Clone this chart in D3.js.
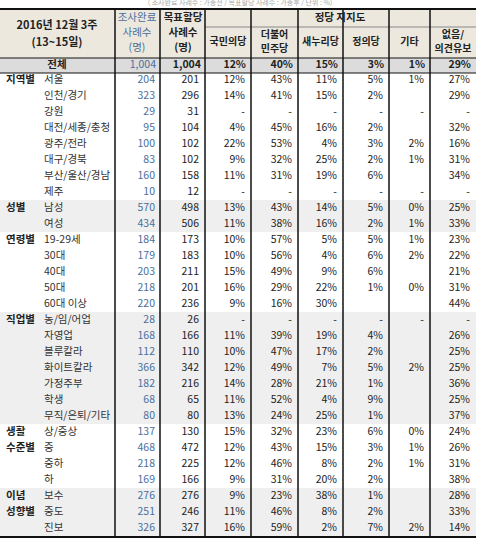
<!DOCTYPE html><html><head><meta charset="utf-8"><script src="https://cdn.jsdelivr.net/npm/d3@7"></script>
<style>body{margin:0;background:#fff}</style></head><body><svg id="c" width="487" height="540"></svg>
<script>
const groups=[["지역별",8],["성별",2],["연령별",5],["직업별",7],["생활\n수준별",4],["이념\n성향별",3]];
const labels=["서울","인천/경기","강원","대전/세종/충청","광주/전라","대구/경북","부산/울산/경남","제주","남성","여성","19-29세","30대","40대","50대","60대 이상","농/임/어업","자영업","블루칼라","화이트칼라","가정주부","학생","무직/은퇴/기타","상/중상","중","중하","하","보수","중도","진보"];
const done=[204,323,29,95,100,83,160,10,570,434,184,179,203,218,220,28,168,112,366,182,68,80,137,468,218,169,276,251,326];
const target=[201,296,31,104,102,102,158,12,498,506,173,183,211,201,236,26,166,110,342,216,65,80,130,472,225,166,276,246,327];
const parties=["국민의당","더불어\n민주당","새누리당","정의당","기타","없음/\n의견유보"];
const total=[12,40,15,3,1,29];
const D=null,X="-";
const vals=[
[12,43,11,5,1,27],[14,41,15,2,D,29],[X,X,X,X,X,X],[4,45,16,2,D,32],[22,53,4,3,2,16],[9,32,25,2,1,31],[11,31,19,6,D,34],[X,X,X,X,X,X],
[13,43,14,5,0,25],[11,38,16,2,1,33],
[10,57,5,5,1,23],[10,56,4,6,2,22],[15,49,9,6,D,21],[16,29,22,1,0,31],[9,16,30,D,D,44],
[X,X,X,X,X,X],[11,39,19,4,D,26],[10,47,17,2,D,25],[12,49,7,5,2,25],[14,28,21,1,D,36],[11,52,4,9,D,25],[13,24,25,1,D,37],
[15,32,23,6,0,24],[12,43,15,3,1,26],[12,46,8,2,1,31],[9,31,20,2,D,38],
[9,23,38,1,D,28],[11,46,8,2,D,33],[16,59,2,7,2,14]];
const svg=d3.select("#c"),F="'Noto Sans CJK KR',sans-serif";
const xs=[0,115,160,205,251,298,343,389,430,476];
const y=d3.scaleLinear().domain([0,28]).range([80,528]);
const rh=16;
svg.append("rect").attr("x",0).attr("y",9).attr("width",476).attr("height",49).attr("fill","#ece8de");
svg.append("rect").attr("x",0).attr("y",58).attr("width",476).attr("height",15).attr("fill","#dcdcdc");
let start=0;groups.forEach((g,i)=>{if(i%2==1)svg.append("rect").attr("x",0).attr("y",y(start)-rh/2).attr("width",476).attr("height",g[1]*rh).attr("fill","#efefef");start+=g[1];});
svg.append("text").attr("x",240).attr("y",5).attr("font-size",7).attr("fill","#aaa").attr("font-family",F).attr("text-anchor","middle").text("( 조사완료 사례수 : 가중전 / 목표할당 사례수 : 가중후 / 단위 : %)");
const T=(x,yy,t,o={})=>svg.append("text").attr("x",x).attr("y",yy).attr("font-family",F).attr("font-size",o.s||10.5).attr("font-weight",o.b?"bold":"normal").attr("fill",o.c||"#222").attr("text-anchor",o.a||"middle").attr("dominant-baseline","middle").text(t);
T(57,26,"2016년 12월 3주",{b:1,s:11});T(57,43,"(13~15일)",{b:1,s:11});
const blue="#4a6f9c";
T(137,18,"조사완료",{c:blue});T(137,33,"사례수",{c:blue});T(137,48,"(명)",{c:blue});
T(183,18,"목표할당",{b:1});T(183,33,"사례수",{b:1});T(183,48,"(명)",{b:1});
T(340,18,"정당 지지도",{b:1});
parties.forEach((p,i)=>{const cx=(xs[i+3]+xs[i+4])/2,l=p.split("\n");if(l.length==1)T(cx,42,p,{b:1,s:10});else{T(cx,35,l[0],{b:1,s:10});T(cx,49,l[1],{b:1,s:10});}});
T(57,65,"전체",{b:1});T(156,65,"1,004",{c:blue,a:"end"});T(201,65,"1,004",{b:1,a:"end"});
total.forEach((v,i)=>T(xs[i+4]-5,65,v+"%",{b:1,a:"end"}));
start=0;groups.forEach(g=>{const l=g[0].split("\n");l.forEach((t,j)=>T(6,y(start+j),t,{b:1,a:"start",s:10.5}));start+=g[1];});
labels.forEach((l,i)=>{const yy=y(i);T(44,yy,l,{a:"start",s:10.5,c:"#333"});T(155,yy,done[i],{a:"end",c:blue});T(199,yy,target[i],{a:"end"});
 vals[i].forEach((v,k)=>{if(v!==null)T(xs[k+4]-6,yy,v===X?"-":v+"%",{a:"end"});});});
const L=(x1,y1,x2,y2,w,c)=>svg.append("line").attr("x1",x1).attr("y1",y1).attr("x2",x2).attr("y2",y2).attr("stroke",c||"#111").attr("stroke-width",w);
L(0,9,476,9,2);L(0,58,476,58,1.2);L(0,73,476,73,1);L(0,537,476,537,2);L(205,27,476,27,1,"#888");
xs.slice(1,9).forEach(x=>L(x,9,x,537,1.5));
</script></body></html>
